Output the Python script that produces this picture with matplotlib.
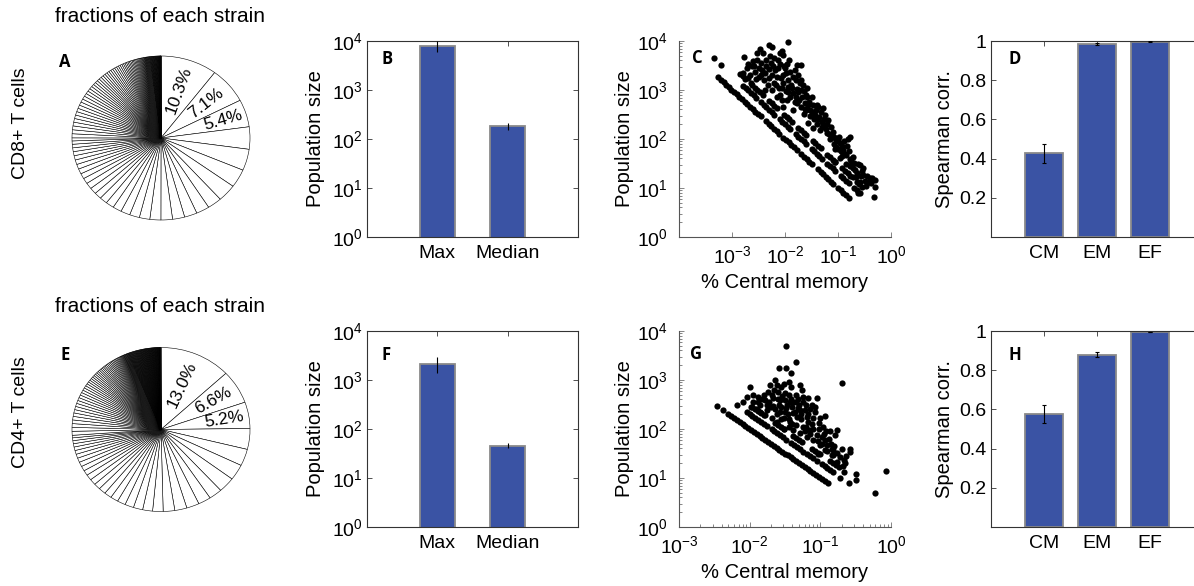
import numpy as np
import matplotlib
matplotlib.use('Agg')
import matplotlib.pyplot as plt
from matplotlib.ticker import NullLocator, LogLocator

plt.rcParams['font.family'] = ['Liberation Sans', 'DejaVu Sans']
plt.rcParams['mathtext.fontset'] = 'custom'
plt.rcParams['mathtext.rm'] = 'Liberation Sans'
plt.rcParams['mathtext.it'] = 'Liberation Sans:italic'
plt.rcParams['mathtext.bf'] = 'Liberation Sans:bold'

# ---------------- data ----------------
pie_labels_A = ['10.3%', '7.1%', '5.4%']
pie_A = [10.3, 7.1, 5.4,
         4.4, 4.2, 3.6, 3.4,
         2.6, 2.4, 2.3, 2.2, 2.1,
         2.0, 1.9, 1.8, 1.7, 1.6, 1.5, 1.4, 1.3, 1.25, 1.2, 1.1, 1.05, 1.0, 0.95, 0.9, 0.85, 0.8, 0.75, 0.7, 0.65, 0.6,
         0.8, 0.78, 0.76, 0.74, 0.72, 0.7, 0.69, 0.68, 0.67, 0.66, 0.65, 0.64,
         0.6, 0.58, 0.56, 0.54, 0.52, 0.5, 0.49, 0.48, 0.47, 0.46, 0.45, 0.44, 0.43, 0.42, 0.41, 0.4, 0.39, 0.38,
         0.36, 0.34, 0.32, 0.3, 0.29, 0.28, 0.27, 0.26, 0.25, 0.24, 0.23, 0.22, 0.21, 0.2, 0.19, 0.18, 0.17,
         0.16, 0.15, 0.14, 0.13,
         0.12, 0.11, 0.1, 0.1, 0.1, 0.1, 0.1, 0.1, 0.1, 0.1, 0.09, 0.09, 0.09, 0.09, 0.08, 0.08, 0.08, 0.08, 0.08,
         0.07, 0.07, 0.07, 0.07, 0.07, 0.06, 0.06, 0.06, 0.06, 0.06, 0.05, 0.05, 0.05, 0.05, 0.04, 0.04, 0.04,
         0.04, 0.03, 0.03, 0.03, 0.03, 0.03, 0.02, 0.02, 0.02, 0.02, 0.01, 0.01, 0.01]

pie_labels_E = ['13.0%', '6.6%', '5.2%']
pie_E = [13.0, 6.6, 5.2,
         4.1, 3.3, 3.1, 3.0,
         2.4, 2.3, 2.3, 2.2, 2.1,
         1.9, 1.8, 1.7, 1.6, 1.5, 1.4, 1.35, 1.3, 1.2, 1.15, 1.1, 1.0, 0.95, 0.9, 0.85, 0.8, 0.75, 0.7, 0.65, 0.6,
         0.55, 0.5,
         0.78, 0.76, 0.74, 0.72, 0.7, 0.68, 0.66, 0.64, 0.62, 0.6, 0.58, 0.56,
         0.54, 0.52, 0.5, 0.48, 0.46, 0.44, 0.42, 0.4, 0.39, 0.38, 0.37, 0.36, 0.35, 0.34, 0.33, 0.32, 0.31, 0.3,
         0.3, 0.29, 0.28, 0.27, 0.26, 0.25, 0.24, 0.23, 0.22, 0.21, 0.2, 0.19, 0.18, 0.17, 0.16, 0.15, 0.14,
         0.13, 0.12, 0.11,
         0.12, 0.12, 0.12, 0.11, 0.11, 0.11, 0.1, 0.1, 0.1, 0.1, 0.1, 0.1, 0.1, 0.1, 0.1, 0.1, 0.1, 0.1, 0.1, 0.1,
         0.09, 0.09, 0.09, 0.09, 0.09, 0.09, 0.09, 0.09, 0.09, 0.09, 0.08, 0.08, 0.08, 0.08, 0.08, 0.08, 0.08,
         0.08, 0.08, 0.08, 0.07, 0.07, 0.07, 0.07, 0.07, 0.07, 0.07, 0.07, 0.07, 0.07,
         0.06, 0.06, 0.06, 0.06, 0.06, 0.06, 0.06, 0.06, 0.06, 0.06, 0.05, 0.05, 0.05, 0.05, 0.05, 0.05, 0.05,
         0.05, 0.05, 0.05, 0.05, 0.05, 0.04, 0.04, 0.04, 0.04, 0.04, 0.04, 0.04, 0.04, 0.04, 0.04, 0.04, 0.04,
         0.03, 0.03, 0.03, 0.03, 0.03, 0.03, 0.03, 0.03, 0.03, 0.03, 0.03, 0.03,
         0.02, 0.02, 0.02, 0.02, 0.02, 0.02, 0.02, 0.02, 0.02, 0.02, 0.02, 0.02]

size_cats = ['Max', 'Median']
size_B = [8000, 184]
size_B_err = [1900, 28]
size_F = [2150, 46]
size_F_err = [770, 6]

corr_cats = ['CM', 'EM', 'EF']
corr_D = [0.427, 0.983, 0.996]
corr_D_err = [0.048, 0.005, 0.002]
corr_H = [0.577, 0.878, 0.995]
corr_H_err = [0.045, 0.013, 0.002]

# scatter data, stored as log10 values (x: % central memory, y: population size)
c_line1_lcm = [-3.26, -3.21, -3.16, -3.11, -3.06, -3.01, -2.96, -2.91, -2.86, -2.81, -2.76, -2.71, -2.66, -2.61,
               -2.56, -2.51, -2.46, -2.36, -2.31, -2.26, -2.21, -2.16, -2.11, -2.03, -1.98, -1.93, -1.88, -1.83,
               -1.78, -1.69, -1.64, -1.59, -1.54, -1.49, -1.38, -1.33, -1.28, -1.23, -1.18, -1.13, -1.09,
               -1.00, -0.95, -0.90, -0.85, -0.79]
c_line1_lpop = [3.26, 3.21, 3.16, 3.11, 3.06, 3.01, 2.96, 2.91, 2.86, 2.81, 2.76, 2.71, 2.66, 2.61,
                2.56, 2.51, 2.46, 2.36, 2.31, 2.26, 2.21, 2.16, 2.11, 2.03, 1.98, 1.93, 1.88, 1.83,
                1.78, 1.69, 1.64, 1.59, 1.54, 1.49, 1.38, 1.33, 1.28, 1.23, 1.18, 1.13, 1.09,
                1.00, 0.95, 0.90, 0.85, 0.79]
c_line2_lcm = [-3.34, -3.21, -2.79, -2.74, -2.69, -2.64, -2.59, -2.54, -2.45, -2.40, -2.35, -2.30, -2.25, -2.20,
               -2.10, -2.05, -2.00, -1.95, -1.90, -1.80, -1.75, -1.70, -1.65, -1.60, -1.50, -1.45, -1.40, -1.35,
               -1.30, -1.20, -1.15, -1.10, -1.05, -0.95, -0.90, -0.85, -0.80, -0.70, -0.65, -0.59]
c_line2_lpop = [3.65, 3.51, 3.09, 3.04, 2.99, 2.94, 2.89, 2.84, 2.75, 2.70, 2.65, 2.60, 2.55, 2.50,
                2.40, 2.35, 2.30, 2.25, 2.20, 2.10, 2.05, 2.00, 1.95, 1.90, 1.80, 1.75, 1.70, 1.65,
                1.60, 1.50, 1.45, 1.40, 1.35, 1.25, 1.20, 1.15, 1.10, 1.00, 0.95, 0.89]
c_line3_lcm = [-2.85, -2.80, -2.75, -2.62, -2.57, -2.52, -2.47, -2.42, -2.30, -2.25, -2.20, -2.15, -2.02, -1.97,
               -1.92, -1.87, -1.75, -1.70, -1.65, -1.60, -1.48, -1.43, -1.38, -1.33, -1.20, -1.15, -1.10, -1.05,
               -0.92, -0.87, -0.82, -0.77, -0.65, -0.60, -0.55, -0.33]
c_line3_lpop = [3.33, 3.28, 3.23, 3.10, 3.05, 3.00, 2.95, 2.90, 2.78, 2.73, 2.68, 2.63, 2.50, 2.45,
                2.40, 2.35, 2.23, 2.18, 2.13, 2.08, 1.96, 1.91, 1.86, 1.81, 1.68, 1.63, 1.58, 1.53,
                1.40, 1.35, 1.30, 1.25, 1.13, 1.08, 1.03, 0.81]
c_cloud = [(-2.77, 3.68), (-2.53, 3.76), (-2.48, 3.83), (-2.31, 3.92), (-2.25, 3.88), (-1.94, 3.97), (-2.06, 3.80),
           (-2.03, 3.71), (-2.35, 3.61), (-2.13, 3.61), (-2.69, 3.54), (-2.63, 3.49), (-2.57, 3.37), (-2.44, 3.41),
           (-2.31, 3.42), (-2.22, 3.48), (-2.09, 3.54), (-1.97, 3.54), (-1.78, 3.51), (-1.69, 3.51), (-2.79, 3.34),
           (-2.66, 3.31), (-2.50, 3.27), (-2.38, 3.35), (-2.25, 3.31), (-2.16, 3.27), (-2.03, 3.31), (-1.91, 3.37),
           (-1.84, 3.27), (-1.69, 3.20), (-2.03, 3.14), (-1.94, 3.07), (-1.78, 3.03), (-1.65, 2.97), (-1.59, 2.86),
           (-1.84, 2.93), (-2.09, 2.90), (-1.97, 2.80), (-1.78, 2.73), (-1.62, 2.73), (-1.47, 2.69), (-1.37, 2.66),
           (-1.28, 2.63), (-2.03, 2.66), (-1.84, 2.59), (-1.65, 2.52), (-1.53, 2.46), (-1.43, 2.49), (-1.56, 2.32),
           (-1.47, 2.22), (-1.34, 2.18), (-1.25, 2.29), (-1.18, 2.39), (-1.21, 2.12), (-1.12, 2.05), (-1.03, 1.98),
           (-0.96, 1.91), (-0.81, 2.01), (-0.77, 2.05), (-1.03, 1.84), (-0.90, 1.78), (-0.84, 1.67), (-0.71, 1.64),
           (-0.96, 1.61), (-1.06, 1.54), (-0.77, 1.44), (-0.68, 1.37), (-0.59, 1.47), (-0.52, 1.27), (-0.40, 1.20),
           (-0.30, 1.16), (-0.59, 1.13), (-0.71, 1.23), (-0.30, 1.03), (-0.62, 0.89),
           (-2.72, 3.45), (-2.60, 3.60), (-2.55, 3.22), (-2.45, 3.55), (-2.40, 3.20), (-2.33, 3.10), (-2.28, 3.70),
           (-2.20, 3.15), (-2.18, 3.40), (-2.12, 3.05), (-2.08, 3.25), (-2.00, 3.45), (-1.99, 2.98), (-1.95, 3.20),
           (-1.90, 2.85), (-1.88, 3.10), (-1.82, 3.40), (-1.80, 2.85), (-1.75, 2.95), (-1.72, 3.15), (-1.70, 2.65),
           (-1.67, 2.85), (-1.60, 2.60), (-1.58, 3.05), (-1.55, 2.75), (-1.50, 2.55), (-1.45, 2.40), (-1.42, 2.60),
           (-1.40, 2.30), (-1.35, 2.45), (-1.30, 2.25), (-1.27, 2.40), (-1.22, 2.20), (-1.15, 2.00), (-1.10, 2.15),
           (-1.08, 1.90), (-1.00, 1.80), (-0.98, 2.05), (-0.92, 1.65), (-0.88, 1.95), (-0.85, 1.50), (-0.80, 1.75),
           (-0.75, 1.55), (-0.72, 1.40), (-0.65, 1.30), (-0.62, 1.50), (-0.55, 1.35), (-0.50, 1.15), (-0.45, 1.25),
           (-0.38, 1.10), (-2.65, 3.15), (-2.50, 3.45), (-2.38, 3.00), (-2.25, 3.00), (-2.15, 2.85), (-2.05, 2.80),
           (-2.70, 3.25), (-2.58, 3.50), (-2.52, 3.62), (-2.46, 3.30), (-2.42, 3.75), (-2.36, 3.48), (-2.30, 3.25),
           (-2.27, 3.55), (-2.20, 3.65), (-2.17, 3.10), (-2.14, 3.45), (-2.10, 3.75), (-2.06, 3.05), (-2.02, 3.50),
           (-1.98, 3.35), (-1.95, 2.95), (-1.92, 3.62), (-1.86, 3.05), (-1.82, 2.75), (-1.80, 3.20), (-1.76, 3.30),
           (-1.73, 2.80), (-1.70, 3.00), (-1.66, 3.10), (-1.63, 2.62), (-1.60, 2.90), (-1.57, 2.70), (-1.53, 2.60),
           (-1.50, 2.85), (-1.45, 2.55), (-1.40, 2.70), (-1.38, 2.40), (-1.33, 2.55), (-1.30, 2.35), (-1.25, 2.50),
           (-1.20, 2.30), (-1.17, 2.10), (-1.13, 2.25), (-1.08, 2.05), (-1.05, 1.80), (-1.00, 1.95), (-0.95, 1.75),
           (-0.93, 1.85), (-0.87, 1.70), (-0.83, 1.85), (-0.78, 1.60), (-0.74, 1.48), (-0.69, 1.52), (-0.66, 1.22),
           (-0.57, 1.25), (-0.52, 1.40), (-0.47, 1.05), (-0.42, 1.12), (-0.35, 1.20)]

g_line1_lcm = [-2.46, -2.38, -2.30, -2.26, -2.22, -2.18, -2.14, -2.10, -2.06, -2.02, -1.98, -1.94, -1.90, -1.86,
               -1.82, -1.78, -1.74, -1.70, -1.66, -1.62, -1.58, -1.54, -1.50, -1.46, -1.42, -1.38, -1.34, -1.30,
               -1.26, -1.22, -1.18, -1.14, -1.10, -1.06, -1.02, -0.98, -0.94, -0.89]
g_line1_lpop = [2.46, 2.39, 2.30, 2.26, 2.22, 2.18, 2.14, 2.10, 2.06, 2.02, 1.98, 1.94, 1.90, 1.86,
                1.82, 1.78, 1.74, 1.70, 1.66, 1.62, 1.58, 1.54, 1.50, 1.46, 1.42, 1.38, 1.34, 1.30,
                1.26, 1.22, 1.18, 1.14, 1.10, 1.06, 1.02, 0.98, 0.94, 0.89]
g_line2_lcm = [-2.18, -2.04, -2.00, -1.96, -1.92, -1.88, -1.84, -1.80, -1.76, -1.69, -1.65, -1.61, -1.57, -1.53,
               -1.48, -1.41, -1.37, -1.33, -1.29, -1.24, -1.19, -1.15, -1.11, -1.05, -0.98, -0.94, -0.90, -0.86, -0.82]
g_line2_lpop = [2.48, 2.34, 2.30, 2.26, 2.22, 2.18, 2.14, 2.10, 2.06, 1.99, 1.95, 1.91, 1.87, 1.83,
                1.78, 1.71, 1.67, 1.63, 1.59, 1.54, 1.49, 1.45, 1.41, 1.35, 1.28, 1.24, 1.20, 1.16, 1.12]
g_line3_lcm = [-1.96, -1.92, -1.88, -1.84, -1.80, -1.64, -1.60, -1.56, -1.52, -1.38, -1.34, -1.30, -1.26,
               -1.12, -1.08, -1.04, -1.00, -0.86, -0.82, -0.78]
g_line3_lpop = [2.44, 2.40, 2.36, 2.32, 2.28, 2.12, 2.08, 2.04, 2.00, 1.86, 1.82, 1.78, 1.74,
                1.60, 1.56, 1.52, 1.48, 1.34, 1.30, 1.26]
g_cloud = [(-1.48, 3.69), (-1.35, 3.37), (-1.59, 3.25), (-1.48, 3.24), (-1.41, 3.14), (-0.70, 2.93), (-0.23, 0.70),
           (-0.07, 1.15), (-0.72, 1.01), (-0.60, 0.90), (-0.49, 1.08), (-0.49, 0.96), (-0.67, 1.13), (-0.65, 1.30),
           (-0.77, 1.98), (-0.79, 1.87), (-0.58, 1.60), (-0.58, 1.54), (-0.84, 1.60), (-0.82, 1.47), (-0.72, 1.43),
           (-0.67, 1.37), (-2.04, 2.66), (-1.88, 2.66), (-1.95, 2.56), (-1.74, 2.76), (-1.71, 2.90), (-1.64, 3.00),
           (-1.62, 2.90), (-1.55, 2.86), (-1.50, 2.73), (-1.41, 2.86), (-1.29, 2.90), (-1.26, 2.80), (-1.17, 2.63),
           (-1.05, 2.63), (-1.12, 2.49), (-1.22, 2.39), (-1.34, 2.56), (-1.43, 2.56), (-1.57, 2.59), (-1.67, 2.63),
           (-1.78, 2.59), (-1.85, 2.49), (-1.76, 2.39), (-1.67, 2.46), (-1.57, 2.35), (-1.48, 2.42), (-1.38, 2.32),
           (-1.29, 2.39), (-1.19, 2.25), (-1.10, 2.22), (-1.00, 2.22), (-0.93, 2.26), (-1.52, 2.22), (-1.43, 2.15),
           (-1.34, 2.08), (-1.24, 2.05), (-1.15, 1.98), (-1.05, 1.88), (-0.98, 1.84), (-0.93, 1.78), (-0.91, 1.67),
           (-1.10, 1.78), (-1.19, 1.84), (-1.29, 1.91), (-1.38, 1.98), (-1.45, 2.05), (-1.52, 2.01), (-1.62, 2.15),
           (-1.69, 2.22), (-1.78, 2.29), (-1.00, 1.67), (-0.93, 1.57), (-1.03, 1.50), (-0.84, 1.47), (-0.77, 1.33),
           (-0.74, 1.23), (-0.82, 1.57), (-1.60, 2.75), (-1.55, 2.45), (-1.50, 2.60), (-1.45, 2.70), (-1.40, 2.45),
           (-1.35, 2.70), (-1.30, 2.50), (-1.28, 2.20), (-1.25, 2.65), (-1.20, 2.50), (-1.15, 2.40), (-1.12, 2.10),
           (-1.08, 2.35), (-1.02, 2.00), (-0.96, 2.05), (-0.95, 1.90), (-0.88, 1.80), (-0.86, 1.95), (-1.70, 2.45),
           (-1.65, 2.80), (-1.80, 2.70), (-1.90, 2.40), (-1.98, 2.45), (-2.10, 2.55), (-2.00, 2.85), (-1.58, 2.50),
           (-1.46, 2.30), (-1.36, 2.35), (-1.32, 2.62), (-1.22, 1.95), (-1.18, 2.15), (-1.40, 2.10), (-1.62, 2.30),
           (-1.73, 2.55), (-1.88, 2.55), (-1.52, 2.92), (-1.44, 2.95),
           (-1.95, 2.70), (-1.85, 2.35), (-1.82, 2.62), (-1.75, 2.48), (-1.68, 2.70), (-1.64, 2.40), (-1.60, 2.62),
           (-1.56, 2.20), (-1.54, 2.68), (-1.50, 2.35), (-1.47, 2.50), (-1.44, 2.20), (-1.42, 2.62), (-1.38, 2.55),
           (-1.33, 2.25), (-1.31, 2.42), (-1.27, 2.30), (-1.24, 2.55), (-1.20, 2.05), (-1.17, 2.30), (-1.14, 1.90),
           (-1.10, 2.00), (-1.07, 2.45), (-1.04, 1.75), (-1.02, 2.12), (-0.97, 1.70), (-0.92, 1.95), (-0.90, 1.55),
           (-0.85, 1.70), (-0.80, 1.65), (-0.76, 1.52), (-0.70, 1.60), (-0.68, 1.25), (-0.63, 1.45)]

# ---------------- figure ----------------
W, H = 1194, 586
fig = plt.figure(figsize=(W / 100, H / 100), dpi=100)
BLUE = '#3A53A4'
EDGE = '#8a8a8a'
SPINE = '#333333'
FS = 14.5     # axis labels
TFS = 14      # tick labels


def ax_px(left, top, right, bottom):
    return fig.add_axes([left / W, 1 - bottom / H, (right - left) / W, (bottom - top) / H])


def letter(x, y, s):
    fig.text(x / W, 1 - y / H, s, fontsize=12, fontweight='bold', family=['Open Sans', 'DejaVu Sans'],
             ha='center', va='center')


def draw_pie(cx, cy, fracs, labels, label_r):
    rx, ry = 89, 82
    lim = 1.02
    ax = ax_px(cx - rx * lim, cy - ry * lim, cx + rx * lim, cy + ry * lim)
    wedges, _ = ax.pie(fracs, startangle=90, counterclock=False, colors=['white'],
                       wedgeprops=dict(edgecolor='black', linewidth=0.4))
    ax.set_aspect('auto')
    ax.set_xlim(-lim, lim)
    ax.set_ylim(-lim, lim)
    for w, lab, r in zip(wedges, labels, label_r):
        mid = np.radians((w.theta1 + w.theta2) / 2)
        rot = np.degrees(np.arctan2(ry * np.sin(mid), rx * np.cos(mid)))
        ax.text(r * np.cos(mid), r * np.sin(mid), lab, rotation=rot, rotation_mode='anchor',
                ha='center', va='center', fontsize=12.5)


def box_style(ax):
    for s in ax.spines.values():
        s.set_linewidth(0.8)
        s.set_color(SPINE)
    ax.tick_params(which='both', direction='in', top=True, right=True, labelsize=TFS, width=0.6, color=SPINE)
    ax.tick_params(which='major', length=3.5)


def draw_logbar(top, bottom, vals, errs):
    ax = ax_px(367, top, 578, bottom)
    x = np.arange(1, len(vals) + 1)
    ax.bar(x, vals, width=0.5, color=BLUE, edgecolor=EDGE, linewidth=1.3, zorder=2)
    ax.errorbar(x, vals, yerr=errs, fmt='none', ecolor='black', elinewidth=0.8, capsize=0, zorder=3)
    ax.set_yscale('log')
    ax.set_ylim(1, 1e4)
    ax.set_xlim(0, 3)
    ax.set_yticks([1, 10, 100, 1000, 10000])
    ax.yaxis.set_minor_locator(NullLocator())
    ax.set_xticks(x)
    ax.set_xticklabels(size_cats)
    box_style(ax)
    ax.tick_params(axis='x', pad=6)
    ax.tick_params(axis='y', pad=3)
    ax.set_ylabel('Population size', fontsize=FS, labelpad=5)
    return ax


def draw_corrbar(top, bottom, vals, errs):
    ax = ax_px(991, top, 1203, bottom)
    x = np.arange(1, len(vals) + 1)
    ax.bar(x, vals, width=0.7, color=BLUE, edgecolor=EDGE, linewidth=1.3, zorder=2)
    ax.errorbar(x, vals, yerr=errs, fmt='none', ecolor='black', elinewidth=0.8, capsize=1.5,
                capthick=0.8, zorder=3)
    ax.set_ylim(0, 1)
    ax.set_xlim(0, 4)
    ax.set_yticks([0.2, 0.4, 0.6, 0.8, 1.0])
    ax.set_yticklabels(['0.2', '0.4', '0.6', '0.8', '1'])
    ax.set_xticks(x)
    ax.set_xticklabels(corr_cats)
    box_style(ax)
    ax.tick_params(axis='x', pad=6)
    ax.tick_params(axis='y', pad=3)
    ax.set_ylabel('Spearman corr.', fontsize=FS, labelpad=4)
    return ax


def draw_scatter(top, bottom, xmin, xticks, series):
    ax = ax_px(679, top, 891, bottom)
    for lcm, lpop in series:
        ax.plot(10 ** np.asarray(lcm), 10 ** np.asarray(lpop), 'o', ms=4.5, mfc='black', mec='black',
                mew=0, ls='none', clip_on=False)
    ax.set_xscale('log')
    ax.set_yscale('log')
    ax.set_xlim(xmin, 1)
    ax.set_ylim(1, 1e4)
    ax.set_xticks(xticks)
    ax.set_yticks([1, 10, 100, 1000, 10000])
    ax.xaxis.set_minor_locator(LogLocator(base=10, subs=np.arange(2, 10)))
    ax.yaxis.set_minor_locator(LogLocator(base=10, subs=np.arange(2, 10)))
    ax.spines['top'].set_visible(False)
    ax.spines['right'].set_visible(False)
    for s in ['left', 'bottom']:
        ax.spines[s].set_linewidth(0.8)
        ax.spines[s].set_color('#555555')
    ax.tick_params(which='both', direction='in', labelsize=TFS, width=0.5, color='#555555')
    ax.tick_params(which='major', length=3.5)
    ax.tick_params(which='minor', length=2)
    ax.tick_params(axis='x', pad=6)
    ax.tick_params(axis='y', pad=8)
    ax.set_ylabel('Population size', fontsize=FS, labelpad=2)
    ax.set_xlabel('% Central memory', fontsize=FS, labelpad=4)
    return ax


# Row 1 : CD8+
fig.text(160 / W, 1 - 17 / H, 'fractions of each strain', fontsize=15, ha='center', va='center')
fig.text(21 / W, 1 - 123 / H, 'CD8+ T cells', fontsize=14, rotation=90, ha='center', va='center')
draw_pie(161, 138, pie_A, pie_labels_A, [0.62, 0.66, 0.73])
letter(65, 62, 'A')
draw_logbar(41, 237, size_B, size_B_err)
letter(387, 59, 'B')
draw_scatter(41, 237, 1e-4, [1e-3, 1e-2, 1e-1, 1],
             [(c_line1_lcm, c_line1_lpop), (c_line2_lcm, c_line2_lpop), (c_line3_lcm, c_line3_lpop),
              ([p[0] for p in c_cloud], [p[1] for p in c_cloud])])
letter(697, 58, 'C')
draw_corrbar(41, 237, corr_D, corr_D_err)
letter(1015, 59, 'D')

# Row 2 : CD4+
fig.text(160 / W, 1 - 307 / H, 'fractions of each strain', fontsize=15, ha='center', va='center')
fig.text(21 / W, 1 - 412 / H, 'CD4+ T cells', fontsize=14, rotation=90, ha='center', va='center')
draw_pie(161, 429.5, pie_E, pie_labels_E, [0.60, 0.69, 0.72])
letter(65, 355, 'E')
draw_logbar(331, 527, size_F, size_F_err)
letter(386, 355, 'F')
draw_scatter(331, 527, 1e-3, [1e-3, 1e-2, 1e-1, 1],
             [(g_line1_lcm, g_line1_lpop), (g_line2_lcm, g_line2_lpop), (g_line3_lcm, g_line3_lpop),
              ([p[0] for p in g_cloud], [p[1] for p in g_cloud])])
letter(696, 354, 'G')
draw_corrbar(331, 527, corr_H, corr_H_err)
letter(1015, 355, 'H')

fig.savefig('out.png', dpi=100)
